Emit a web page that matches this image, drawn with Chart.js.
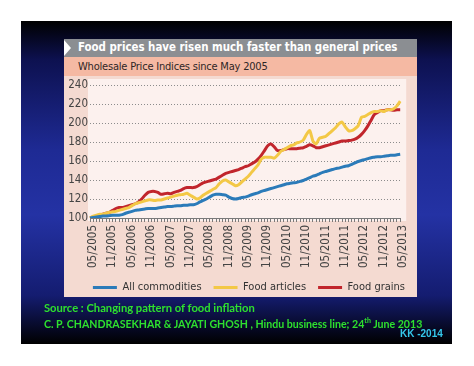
<!DOCTYPE html>
<html>
<head>
<meta charset="utf-8">
<script src="https://cdn.jsdelivr.net/npm/chart.js@4.4.0/dist/chart.umd.min.js"></script>
<style>
  body { margin: 0; width: 474px; height: 366px; background: #fff; position: relative; overflow: hidden; }
  .slide { position: absolute; left: 21px; top: 21px; width: 431px; height: 323px;
    background: linear-gradient(to bottom, #000 0%, #0d1150 12%, #1e2a94 40%, #2432a4 60%, #141c70 85%, #000 100%); }
  .panel { position: absolute; left: 64px; top: 39px; width: 353px; height: 258px; background: #f4dad1; }
  .titlebar { position: absolute; left: 64px; top: 39px; width: 353px; height: 18px; background: #8b8e92; }
  .arrow { position: absolute; left: 64px; top: 40px; width: 0; height: 0;
    border-top: 8px solid transparent; border-bottom: 8px solid transparent; border-left: 7px solid #fff; }
  .title { position: absolute; left: 78px; top: 40px; color: #fff; font: bold 11.4px "DejaVu Sans Condensed", "DejaVu Sans", sans-serif; white-space: nowrap; }
  .subband { position: absolute; left: 64px; top: 57px; width: 353px; height: 19px; background: #f5b9a3; }
  .subtitle { position: absolute; left: 78px; top: 60px; color: #2e2626; font: 11px "DejaVu Sans Condensed", "DejaVu Sans", sans-serif; letter-spacing: -0.2px; white-space: nowrap; }
  #wrap { position: absolute; left: 64px; top: 76px; width: 353px; height: 227px; }
  .src { position: absolute; left: 44px; color: #2ee02e; font: bold 11px Lato, "Open Sans", sans-serif; white-space: nowrap; }
  .src sup { font-size: 7px; }
  .kk { position: absolute; left: 400px; top: 328px; color: #35c8ea; font: bold 10px "Liberation Sans", Arial, sans-serif; }
</style>
</head>
<body>
<div class="slide"></div>
<div class="panel"></div>
<div class="titlebar"></div>
<div class="arrow"></div>
<div class="title">Food prices have risen much faster than general prices</div>
<div class="subband"></div>
<div class="subtitle">Wholesale Price Indices since May 2005</div>
<div id="wrap"><canvas id="myChart" width="353" height="227"></canvas></div>
<div class="src" style="top:301px; font-size:11.2px">Source : Changing pattern of food inflation</div>
<div class="src" style="top:316px; font-size:10.6px">C. P. CHANDRASEKHAR &amp; JAYATI GHOSH , Hindu business line; 24<sup>th</sup> June 2013</div>
<div class="kk">KK -2014</div>
<script>
// Wholesale price indices, monthly from 05/2005 to 05/2013 (May 2005 = 100)
const tickLabels = ['05/2005', '11/2005', '05/2006', '11/2006', '05/2007', '11/2007', '05/2008', '11/2008',
    '05/2009', '11/2009', '05/2010', '11/2010', '05/2011', '11/2011', '05/2012', '11/2012', '05/2013'];

const allCommodities = [
    100, 100.5, 101, 101.5, 102, 102, 102.5, 103, 103, 103,
    103.5, 105, 106, 107, 108, 108.5, 109, 109.5, 110, 110,
    110, 110.5, 111, 111.5, 112, 112, 112.5, 113, 113, 113.5,
    113.5, 114, 114, 115, 117, 118.5, 120, 122, 124, 125,
    125, 124.5, 124, 122, 120.5, 120, 120.5, 121.5, 122, 123,
    124.5, 125.5, 126.5, 128, 129, 130, 131, 132, 133, 134,
    135, 136, 136.5, 137, 137.5, 138.5, 139.5, 141, 142.5, 144,
    145, 146.5, 148, 149, 150, 151, 152, 152.5, 153.5, 154.5,
    155, 156.5, 158, 159.5, 160.5, 161.5, 162.5, 163.5, 164, 164.5,
    164.5, 165, 165.5, 166, 166, 166.5, 167];

const foodArticles = [
    100, 102, 103, 104, 104, 105, 106, 106.5, 107, 108,
    109, 110, 111, 113, 115, 116, 117, 118, 119, 119,
    118.5, 119, 119, 120, 121, 122, 123, 124, 124.5, 125,
    126, 124, 122, 120, 121, 124, 126, 128, 130, 132,
    136, 139, 140, 138, 136, 134, 135, 138, 141, 144,
    148, 152, 156, 162, 164, 164, 164, 163, 166, 170,
    172, 174, 176, 177, 179, 180, 182, 188, 192, 181,
    178, 184, 185, 186, 189, 192, 195, 199, 201, 196,
    192, 192, 194, 197, 206, 207, 209, 211, 212, 212,
    213, 212, 214, 214, 215, 218, 223];

const foodGrains = [
    100, 101, 102, 103, 104, 105, 106, 108, 110, 111,
    111, 112, 113, 114, 115, 117, 120, 124, 127, 128,
    128, 127, 125, 125.5, 126, 125.5, 127, 128, 129, 131,
    132, 132, 132, 133, 135, 137, 138, 139, 140, 141,
    143, 145, 147, 148, 149, 150, 151, 152.5, 154, 155,
    157, 159, 162, 166, 171, 176, 178, 175, 171, 171,
    172, 173, 173, 173, 173, 173.5, 174, 175.5, 177, 176,
    174, 174, 175, 176, 177, 178, 179, 180, 181, 181,
    181.5, 182, 183, 185, 188, 192, 197, 203, 209, 211,
    213, 213, 214, 214, 213.5, 214, 214];

// one category per month
const months = [];
for (let i = 0; i < allCommodities.length; i++) {
    const m = (4 + i) % 12 + 1;
    const y = 2005 + Math.floor((4 + i) / 12);
    months.push((m < 10 ? '0' : '') + m + '/' + y);
}

const fontFamily = "'DejaVu Sans Condensed', 'DejaVu Sans', sans-serif";

// light plot background + nudge legend to the right like the original
const plotBg = {
    id: 'plotBg',
    afterLayout(chart) {
        chart.legend.left += 14;
        chart.legend.right += 14;
    },
    beforeDraw(chart) {
        const a = chart.chartArea;
        const c = chart.ctx;
        c.save();
        c.fillStyle = '#fcf1ee';
        c.fillRect(a.left - 2, a.top - 6, a.right - a.left + 8, a.bottom - a.top + 9);
        c.restore();
    }
};

const data = {
    labels: months,
    datasets: [
        { label: 'All commodities', data: allCommodities, borderColor: '#2b7bb9', backgroundColor: '#2b7bb9' },
        { label: 'Food articles', data: foodArticles, borderColor: '#f3c846', backgroundColor: '#f3c846' },
        { label: 'Food grains', data: foodGrains, borderColor: '#c1252c', backgroundColor: '#c1252c' },
    ],
};

const config = {
    type: 'line',
    data: data,
    options: {
        responsive: false,
        animation: false,
        layout: { padding: { top: 9, right: 14, bottom: 0, left: 0 } },
        elements: {
            line: { borderWidth: 3, tension: 0.2 },
            point: { radius: 0 },
        },
        scales: {
            y: {
                min: 100,
                max: 240,
                afterFit: function (scale) { scale.width = 26; },
                ticks: { stepSize: 20, autoSkip: false, color: '#444', font: { family: fontFamily, size: 11.5 }, padding: 2 },
                grid: { color: '#8c8c8c', drawTicks: false, lineWidth: 1 },
                border: { display: false, dash: [1, 2] },
            },
            x: {
                afterFit: function (scale) { scale.height = 52; },
                ticks: {
                    autoSkip: false,
                    minRotation: 90,
                    maxRotation: 90,
                    color: '#444',
                    font: { family: fontFamily, size: 11.5 },
                    padding: 3,
                    labelOffset: 3,
                    callback: function (v, i) { return i % 6 === 0 ? tickLabels[i / 6] : ''; },
                },
                grid: { drawOnChartArea: false, drawTicks: true, tickLength: 4, color: '#7a7a7a' },
                border: { display: true, color: '#7a7a7a' },
            },
        },
        plugins: {
            legend: {
                position: 'bottom',
                align: 'end',
                labels: {
                    boxWidth: 24,
                    boxHeight: 3,
                    padding: 12,
                    color: '#333',
                    font: { family: fontFamily, size: 11 },
                    generateLabels: function (chart) {
                        return chart.data.datasets.map(function (d, i) {
                            return { text: d.label, fillStyle: d.borderColor, strokeStyle: d.borderColor,
                                lineWidth: 0, datasetIndex: i, hidden: false, fontColor: '#333' };
                        });
                    },
                },
            },
            tooltip: { enabled: false },
        },
    },
    plugins: [plotBg],
};

const ctx = document.getElementById('myChart').getContext('2d');
const myChart = new Chart(ctx, config);
</script>
</body>
</html>
